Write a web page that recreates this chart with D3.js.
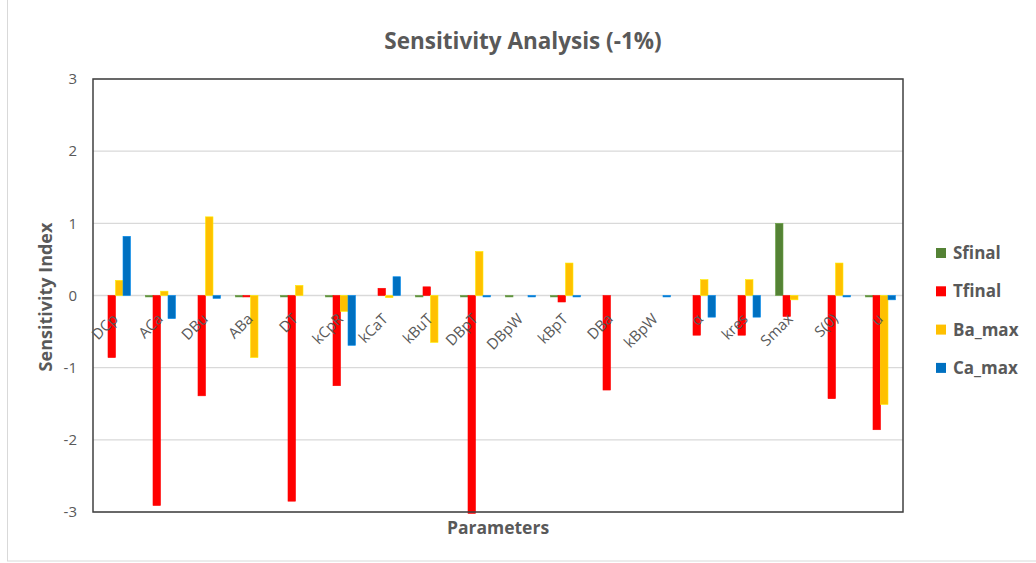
<!DOCTYPE html>
<html><head><meta charset="utf-8">
<script src="https://cdn.jsdelivr.net/npm/d3@7/dist/d3.min.js"></script>
<style>body{margin:0;background:#fff;} text{font-family:"Open Sans","Liberation Sans",sans-serif;}</style>
</head><body>
<svg id="c" width="1036" height="563"></svg>
<script>
const categories = ["DCp","ACa","DBu","ABa","DT","kCpR","kCaT","kBuT","DBpT","DBpW","kBpT","DBa","kBpW","α","kres","Smax","S(0)","u"];
const seriesNames = ["Sfinal","Tfinal","Ba_max","Ca_max"];
const Sfinal = [0,-0.02,0,-0.02,-0.02,-0.02,0,-0.02,-0.02,-0.02,-0.02,0,0,0,0,1.0,0,-0.02];
const Tfinal = [-0.86,-2.91,-1.39,-0.02,-2.85,-1.25,0.10,0.12,-3.02,0,-0.09,-1.31,0,-0.55,-0.55,-0.29,-1.43,-1.86];
const Ba_max = [0.21,0.06,1.09,-0.86,0.14,-0.22,-0.03,-0.65,0.61,0,0.45,0,0,0.22,0.22,-0.06,0.45,-1.51];
const Ca_max = [0.82,-0.32,-0.04,0,0,-0.69,0.26,0,-0.02,-0.02,-0.02,0,-0.02,-0.30,-0.30,0,-0.02,-0.06];
const yTicks = [3,2,1,0,-1,-2,-3];
const colors = ["#548235","#FF0000","#FFC000","#0070C0"];
const seriesData = [Sfinal,Tfinal,Ba_max,Ca_max];

const svg = d3.select("#c");
const L=93,R=903,T=79,B=512;
svg.append("rect").attr("x",7.5).attr("y",-2).attr("width",1040).attr("height",563).attr("fill","none").attr("stroke","#d9d9d9");

const x = d3.scaleBand().domain(categories).range([L,R]).paddingInner(1/3).paddingOuter(1/6);
const xs = d3.scaleBand().domain(seriesNames).range([0,x.bandwidth()]);
const y = d3.scaleLinear().domain([-3,3]).range([B,T]);

// gridlines
svg.append("g").selectAll("line").data(yTicks).join("line")
  .attr("x1",L).attr("x2",R).attr("y1",d=>y(d)).attr("y2",d=>y(d))
  .attr("stroke","#d9d9d9").attr("stroke-width",1.3);

// bars
const g = svg.append("g");
seriesData.forEach((arr,si)=>{
  g.selectAll(null).data(arr).join("rect")
   .attr("x",(d,i)=>x(categories[i])+xs(seriesNames[si]))
   .attr("width",xs.bandwidth())
   .attr("y",d=>y(Math.max(0,d)))
   .attr("height",d=>Math.abs(y(d)-y(0)))
   .attr("fill",colors[si])
   .attr("stroke",d3.color(colors[si]).brighter(0.6)).attr("stroke-width",0.6);
});

// plot border
svg.append("rect").attr("x",L).attr("y",T).attr("width",R-L).attr("height",B-T)
  .attr("fill","none").attr("stroke","#404040").attr("stroke-width",1.5);

// y axis labels
const yAxis = d3.axisLeft(y).tickValues(yTicks).tickSize(0).tickPadding(16).tickFormat(d=>String(d));
const ya = svg.append("g").attr("transform",`translate(${L},0)`).call(yAxis);
ya.select(".domain").remove();
ya.selectAll("text").attr("font-size",15).attr("fill","#595959").attr("font-family","Open Sans, sans-serif");

// category labels
svg.append("g").selectAll("text").data(categories).join("text")
  .attr("transform",d=>`translate(${x(d)+x.bandwidth()/2-4},${y(0)+17}) rotate(-45)`)
  .attr("text-anchor","end").attr("dy","0.7em")
  .attr("font-size",15).attr("fill","#595959").text(d=>d);

// titles
svg.append("text").attr("x",523).attr("y",49).attr("text-anchor","middle")
  .attr("font-size",22.5).attr("font-weight","bold").attr("fill","#595959").text("Sensitivity Analysis (-1%)");
svg.append("text").attr("transform","translate(52,297) rotate(-90)").attr("text-anchor","middle")
  .attr("font-size",18).attr("font-weight","bold").attr("fill","#595959").text("Sensitivity Index");
svg.append("text").attr("x",498).attr("y",534).attr("text-anchor","middle")
  .attr("font-size",17.5).attr("font-weight","bold").attr("fill","#595959").text("Parameters");

// legend
const lg = svg.append("g").selectAll("g").data(seriesNames).join("g")
  .attr("transform",(d,i)=>`translate(936,${253+i*38.3})`);
lg.append("rect").attr("x",0).attr("y",-5).attr("width",10).attr("height",10).attr("fill",(d,i)=>colors[i]);
lg.append("text").attr("x",17).attr("y",0).attr("dy","0.35em").attr("font-size",17).attr("font-weight","bold")
  .attr("fill","#595959").text(d=>d);
</script>
</body></html>
